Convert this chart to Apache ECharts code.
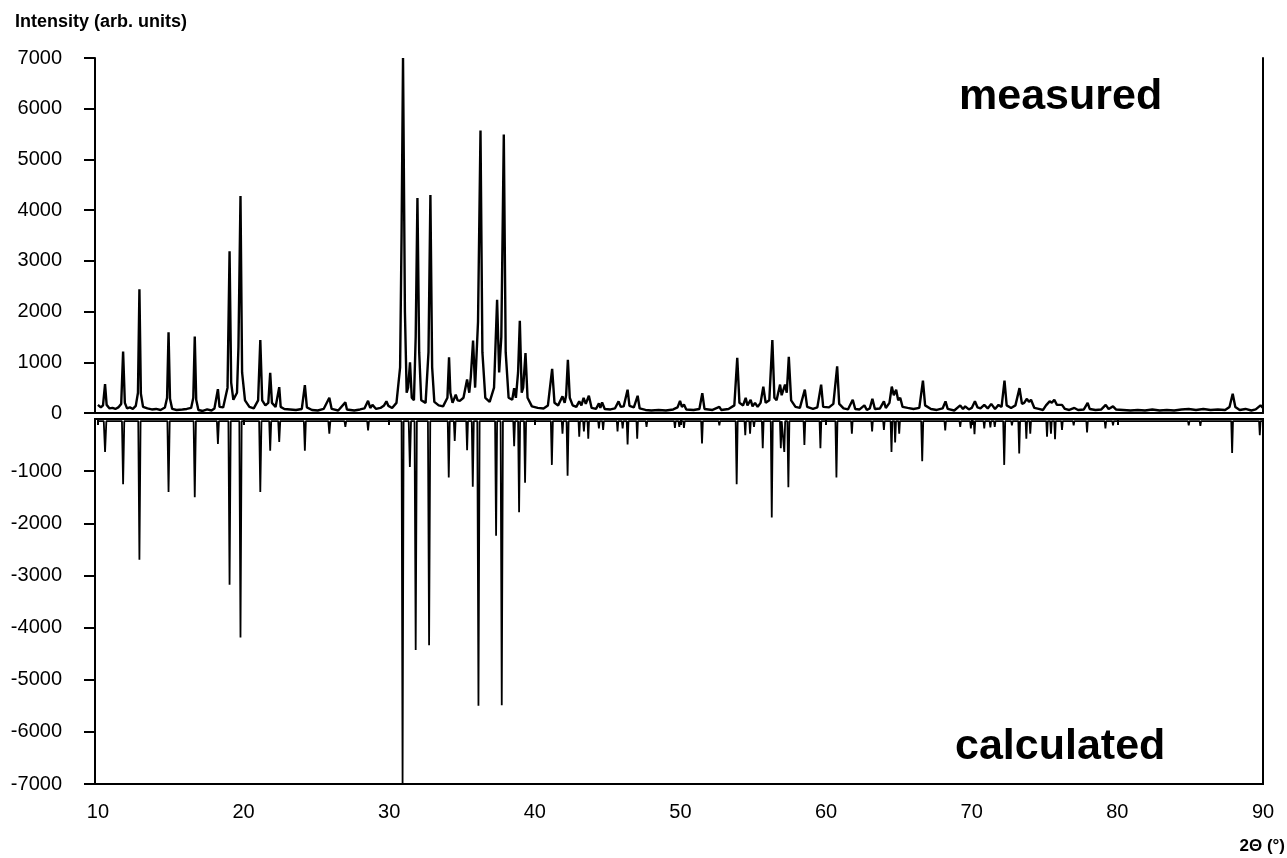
<!DOCTYPE html>
<html>
<head>
<meta charset="utf-8">
<script src="https://cdn.jsdelivr.net/npm/echarts@6/dist/echarts.min.js"></script>
<style>
  html, body { margin: 0; padding: 0; background: #fff; }
  #chart { width: 1287px; height: 858px; }
</style>
</head>
<body>
<div id="chart"></div>
<script>
// x ticks (2Θ) and y ticks of both panels
const xTicks = [10, 20, 30, 40, 50, 60, 70, 80, 90];
const upperTicks = [0, 1000, 2000, 3000, 4000, 5000, 6000, 7000];
const lowerTicks = [-1000, -2000, -3000, -4000, -5000, -6000, -7000];

// measured pattern [2θ, intensity]
const measured = [
  [10.0,160],[10.2,110],[10.35,150],[10.49,570],[10.6,160],[10.8,90],[11.0,100],[11.2,80],[11.4,110],[11.6,180],
  [11.73,1212],[11.85,200],[12.0,90],[12.2,110],[12.4,80],[12.6,140],[12.75,400],[12.85,2440],[12.95,380],[13.1,120],
  [13.4,90],[13.7,70],[14.0,80],[14.3,60],[14.6,110],[14.75,300],[14.85,1590],[14.95,280],[15.1,80],[15.4,60],
  [15.8,70],[16.1,80],[16.4,100],[16.55,300],[16.65,1510],[16.75,260],[16.9,60],[17.2,40],[17.5,70],[17.8,50],
  [18.0,90],[18.24,470],[18.35,120],[18.6,110],[18.9,500],[19.04,3190],[19.15,600],[19.3,260],[19.55,400],[19.65,1300],
  [19.79,4280],[19.9,800],[20.1,250],[20.4,120],[20.7,90],[21.0,250],[21.15,1440],[21.28,250],[21.5,150],[21.7,200],
  [21.83,790],[21.95,200],[22.2,120],[22.45,510],[22.55,120],[22.8,80],[23.2,70],[23.6,60],[24.0,80],[24.21,550],
  [24.35,110],[24.7,60],[25.1,50],[25.5,80],[25.89,300],[26.05,80],[26.5,50],[26.99,210],[27.1,70],[27.6,50],
  [28.0,70],[28.3,90],[28.55,240],[28.7,100],[28.85,160],[29.1,80],[29.4,100],[29.65,150],[29.81,230],[29.95,140],
  [30.2,100],[30.5,200],[30.75,900],[30.85,3500],[30.95,7000],[31.08,2000],[31.2,400],[31.3,500],[31.43,1000],[31.55,300],
  [31.7,250],[31.82,1500],[31.94,4240],[32.06,1200],[32.2,250],[32.5,200],[32.7,1200],[32.83,4300],[32.95,900],[33.1,220],
  [33.4,150],[33.7,130],[34.0,300],[34.11,1100],[34.2,400],[34.35,200],[34.57,360],[34.7,250],[34.85,240],[35.1,300],
  [35.35,660],[35.5,400],[35.6,700],[35.76,1430],[35.9,500],[36.1,1800],[36.27,5570],[36.4,1200],[36.6,300],[36.9,220],
  [37.2,500],[37.41,2230],[37.55,800],[37.7,1500],[37.87,5490],[38.0,1200],[38.2,300],[38.45,260],[38.58,490],[38.7,300],
  [38.85,800],[38.97,1820],[39.1,400],[39.2,500],[39.36,1180],[39.5,300],[39.8,130],[40.2,100],[40.6,90],[40.9,150],
  [41.19,870],[41.35,200],[41.6,150],[41.9,330],[42.05,200],[42.15,350],[42.27,1050],[42.4,300],[42.6,150],[42.85,120],
  [43.05,230],[43.2,150],[43.35,300],[43.5,180],[43.71,340],[43.9,100],[44.2,80],[44.4,190],[44.5,100],[44.62,210],
  [44.8,80],[45.2,70],[45.5,90],[45.75,230],[45.9,120],[46.1,130],[46.37,460],[46.5,140],[46.8,110],[47.06,340],
  [47.2,90],[47.6,60],[48.0,50],[48.5,60],[49.0,50],[49.5,70],[49.8,110],[49.97,240],[50.1,120],[50.24,170],
  [50.4,70],[50.9,60],[51.3,80],[51.5,390],[51.65,80],[52.2,60],[52.67,120],[52.8,60],[53.3,80],[53.7,150],
  [53.9,1090],[54.05,200],[54.3,150],[54.48,300],[54.6,150],[54.82,260],[54.95,130],[55.12,200],[55.3,120],[55.5,200],
  [55.69,520],[55.85,200],[56.1,250],[56.31,1440],[56.45,300],[56.6,250],[56.84,560],[56.95,350],[57.18,560],[57.3,400],
  [57.44,1110],[57.6,250],[57.9,120],[58.2,100],[58.54,460],[58.7,120],[59.1,80],[59.4,110],[59.66,560],[59.8,120],
  [60.2,110],[60.5,180],[60.76,920],[60.9,180],[61.2,90],[61.5,70],[61.83,260],[62.0,80],[62.3,70],[62.63,150],
  [62.8,60],[63.0,90],[63.18,280],[63.35,80],[63.7,90],[63.97,230],[64.1,100],[64.35,200],[64.51,520],[64.65,350],
  [64.81,460],[64.95,250],[65.09,300],[65.25,120],[65.6,100],[66.0,80],[66.4,100],[66.65,640],[66.8,150],[67.2,80],
  [67.6,60],[68.0,90],[68.2,230],[68.35,80],[68.8,50],[69.21,150],[69.4,80],[69.55,130],[69.8,70],[70.0,100],
  [70.22,230],[70.4,110],[70.6,90],[70.86,160],[71.1,90],[71.34,180],[71.6,80],[71.84,160],[72.05,120],[72.25,640],
  [72.4,150],[72.7,100],[73.0,150],[73.28,490],[73.45,180],[73.6,200],[73.79,280],[73.93,220],[74.07,260],[74.3,100],
  [74.6,80],[74.9,60],[75.1,150],[75.35,230],[75.5,200],[75.67,260],[75.85,160],[76.2,160],[76.4,80],[76.7,60],
  [77.05,100],[77.3,60],[77.7,70],[77.96,200],[78.1,80],[78.5,60],[78.9,70],[79.2,160],[79.4,80],[79.7,130],
  [79.9,70],[80.4,60],[80.9,50],[81.4,60],[81.9,50],[82.4,70],[82.9,50],[83.4,60],[83.9,50],[84.4,70],
  [84.9,80],[85.4,60],[85.9,80],[86.4,60],[86.9,70],[87.4,60],[87.7,120],[87.92,380],[88.1,120],[88.4,60],
  [88.8,80],[89.2,50],[89.5,70],[89.83,150],[90.0,100]
];

// calculated pattern [2θ, -intensity]
const calculated = [
  [10.0,-40],[10.4,-40],[10.49,-630],[10.58,-40],[11.65,-40],[11.73,-1250],[11.81,-40],[12.77,-40],[12.85,-2700],[12.93,-40],
  [14.77,-40],[14.85,-1400],[14.93,-40],[16.57,-40],[16.65,-1500],[16.73,-40],[18.17,-40],[18.24,-480],[18.31,-40],[18.96,-40],
  [19.04,-3180],[19.12,-40],[19.71,-40],[19.79,-4190],[19.87,-40],[21.07,-40],[21.15,-1400],[21.23,-40],[21.76,-40],[21.83,-610],
  [21.9,-40],[22.38,-40],[22.45,-440],[22.52,-40],[24.14,-40],[24.21,-610],[24.28,-40],[25.82,-40],[25.89,-280],[25.96,-40],
  [26.93,-40],[26.99,-150],[27.05,-40],[28.49,-40],[28.55,-220],[28.61,-40],[30.85,-40],[30.92,-7000],[30.99,-40],[31.34,-40],
  [31.42,-920],[31.5,-40],[31.74,-40],[31.82,-4430],[31.9,-40],[32.66,-40],[32.74,-4340],[32.82,-40],[34.02,-40],[34.09,-1120],
  [34.16,-40],[34.44,-40],[34.5,-420],[34.56,-40],[35.29,-40],[35.35,-600],[35.41,-40],[35.67,-40],[35.74,-1300],[35.81,-40],
  [36.05,-40],[36.13,-5500],[36.21,-40],[37.27,-40],[37.34,-2240],[37.41,-40],[37.65,-40],[37.73,-5490],[37.81,-40],[38.52,-40],
  [38.58,-520],[38.64,-40],[38.85,-40],[38.92,-1790],[38.99,-40],[39.26,-40],[39.33,-1220],[39.4,-40],[41.1,-40],[41.17,-880],
  [41.24,-40],[41.85,-40],[41.9,-280],[41.95,-40],[42.18,-40],[42.25,-1090],[42.32,-40],[43.0,-40],[43.05,-340],[43.1,-40],
  [43.32,-40],[43.37,-240],[43.42,-40],[43.62,-40],[43.67,-380],[43.72,-40],[44.35,-40],[44.4,-180],[44.45,-40],[44.64,-40],
  [44.69,-210],[44.74,-40],[45.63,-40],[45.68,-240],[45.73,-40],[45.98,-40],[46.03,-180],[46.08,-40],[46.31,-40],[46.37,-490],
  [46.43,-40],[46.98,-40],[47.03,-380],[47.08,-40],[47.62,-40],[47.67,-150],[47.72,-40],[49.57,-40],[49.62,-170],[49.67,-40],
  [49.87,-40],[49.92,-150],[49.97,-40],[50.19,-40],[50.24,-170],[50.29,-40],[51.42,-40],[51.48,-470],[51.54,-40],[52.62,-40],
  [52.67,-120],[52.72,-40],[53.79,-40],[53.86,-1250],[53.93,-40],[54.4,-40],[54.45,-310],[54.5,-40],[54.73,-40],[54.78,-280],
  [54.83,-40],[55.0,-40],[55.05,-150],[55.1,-40],[55.59,-40],[55.65,-560],[55.71,-40],[56.2,-40],[56.27,-1890],[56.34,-40],
  [56.83,-40],[56.89,-560],[56.95,-40],[57.07,-40],[57.13,-630],[57.19,-40],[57.34,-40],[57.41,-1310],[57.48,-40],[58.45,-40],
  [58.51,-500],[58.57,-40],[59.55,-40],[59.61,-560],[59.67,-40],[60.64,-40],[60.71,-1120],[60.78,-40],[61.72,-40],[61.77,-280],
  [61.82,-40],[63.11,-40],[63.16,-240],[63.21,-40],[63.92,-40],[63.97,-210],[64.02,-40],[64.43,-40],[64.49,-630],[64.55,-40],
  [64.69,-40],[64.74,-450],[64.8,-40],[64.97,-40],[65.02,-280],[65.07,-40],[66.53,-40],[66.6,-810],[66.67,-40],[68.13,-40],
  [68.18,-220],[68.23,-40],[69.16,-40],[69.21,-150],[69.26,-40],[69.89,-40],[69.94,-180],[69.99,-40],[70.14,-40],[70.19,-290],
  [70.24,-40],[70.81,-40],[70.86,-180],[70.91,-40],[71.23,-40],[71.28,-160],[71.33,-40],[71.53,-40],[71.58,-150],[71.63,-40],
  [72.16,-40],[72.23,-880],[72.3,-40],[72.71,-40],[72.76,-120],[72.81,-40],[73.2,-40],[73.26,-660],[73.32,-40],[73.7,-40],
  [73.75,-380],[73.8,-40],[73.97,-40],[74.02,-280],[74.07,-40],[75.12,-40],[75.17,-340],[75.22,-40],[75.39,-40],[75.44,-280],
  [75.49,-40],[75.67,-40],[75.72,-390],[75.77,-40],[76.15,-40],[76.2,-210],[76.25,-40],[76.95,-40],[77.0,-120],[77.05,-40],
  [77.87,-40],[77.92,-260],[77.97,-40],[79.13,-40],[79.18,-180],[79.23,-40],[79.65,-40],[79.7,-120],[79.75,-40],[84.85,-40],
  [84.9,-120],[84.95,-40],[85.65,-40],[85.7,-130],[85.75,-40],[87.82,-40],[87.88,-650],[87.94,-40],[89.73,-40],[89.78,-310],
  [89.83,-40],[90.0,-40]
];

const chart = echarts.init(document.getElementById('chart'));
const FONT = 'Liberation Sans, Arial, sans-serif';
const axisLine = { show: true, lineStyle: { color: '#000', width: 2 } };
const plain = (v) => String(v);

const option = {
  animation: false,
  backgroundColor: '#fff',
  grid: [
    { left: 95, right: 24, top: 58, height: 355 },
    { left: 95, right: 24, top: 419, height: 365, show: true, borderColor: '#000', borderWidth: 2, backgroundColor: 'transparent' }
  ],
  xAxis: [
    {
      type: 'value', gridIndex: 0, min: 9.8, max: 90, position: 'top',
      axisLine: axisLine, axisTick: { show: false }, axisLabel: { show: false }, splitLine: { show: false }
    },
    {
      type: 'value', gridIndex: 1, min: 9.8, max: 90, position: 'bottom',
      axisLine: axisLine,
      axisTick: { show: true, inside: false, length: 6, customValues: xTicks, lineStyle: { color: '#000', width: 2 } },
      axisLabel: { customValues: xTicks, formatter: plain, color: '#000', fontSize: 20, fontFamily: FONT, margin: 18 },
      splitLine: { show: false }
    }
  ],
  yAxis: [
    {
      type: 'value', gridIndex: 0, min: 0, max: 7000, interval: 1000, position: 'left',
      axisLine: axisLine,
      axisTick: { show: true, length: 11, customValues: upperTicks, lineStyle: { color: '#000', width: 2 } },
      axisLabel: { customValues: upperTicks, formatter: plain, color: '#000', fontSize: 20, fontFamily: FONT, margin: 33 },
      splitLine: { show: false }
    },
    {
      type: 'value', gridIndex: 1, min: -7000, max: 0, interval: 1000, position: 'left',
      axisLine: axisLine,
      axisTick: { show: true, length: 11, customValues: lowerTicks, lineStyle: { color: '#000', width: 2 } },
      axisLabel: { customValues: lowerTicks, formatter: plain, color: '#000', fontSize: 20, fontFamily: FONT, margin: 33 },
      splitLine: { show: false }
    },
    {
      type: 'value', gridIndex: 0, min: 0, max: 7000, position: 'right',
      axisLine: axisLine, axisTick: { show: false }, axisLabel: { show: false }, splitLine: { show: false }
    }
  ],
  graphic: [
    { type: 'text', left: 15, top: 13, style: { text: 'Intensity (arb. units)', font: 'bold 18px ' + FONT, fill: '#000' } },
    { type: 'text', right: 2, top: 838, style: { text: '2\u0398 (\u00b0)', font: 'bold 17px ' + FONT, fill: '#000' } },
    { type: 'text', left: 959, top: 76, style: { text: 'measured', font: 'bold 43px ' + FONT, fill: '#000' } },
    { type: 'text', left: 955, top: 726, style: { text: 'calculated', font: 'bold 43px ' + FONT, fill: '#000' } }
  ],
  series: [
    {
      name: 'measured', type: 'line', xAxisIndex: 0, yAxisIndex: 0,
      data: measured, showSymbol: false, symbol: 'none',
      lineStyle: { color: '#000', width: 2.4 }
    },
    {
      name: 'calculated', type: 'line', xAxisIndex: 1, yAxisIndex: 1,
      data: calculated, showSymbol: false, symbol: 'none',
      lineStyle: { color: '#000', width: 1.8 }
    }
  ]
};

chart.setOption(option);
</script>
</body>
</html>
